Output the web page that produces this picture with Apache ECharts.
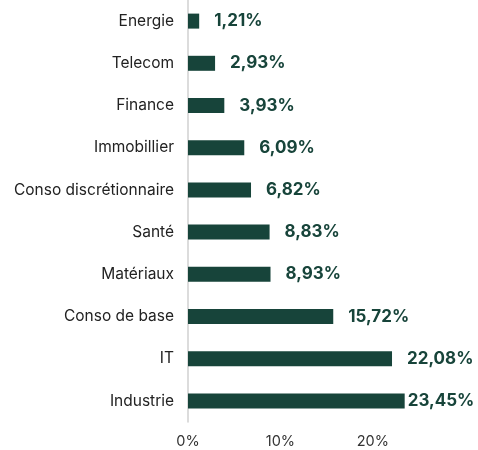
<!DOCTYPE html>
<html><head><meta charset="utf-8">
<script src="https://cdn.jsdelivr.net/npm/echarts@6/dist/echarts.min.js"></script>
<style>html,body{margin:0;padding:0;background:#fff}#c{width:478px;height:450px}</style>
</head><body><div id="c"></div>
<script>
const categories = ["Energie","Telecom","Finance","Immobillier","Conso discrétionnaire","Santé","Matériaux","Conso de base","IT","Industrie"];
const values = [1.21,2.93,3.93,6.09,6.82,8.83,8.93,15.72,22.08,23.45];
const tickValues = [0,10,20];

const color = '#17443A';
const chart = echarts.init(document.getElementById('c'));
chart.setOption({
  animation:false,
  grid:{left:188,right:59,top:0,height:422,containLabel:false},
  xAxis:{type:'value',min:0,max:25,interval:10,
    axisLine:{show:false},axisTick:{show:false},splitLine:{show:false},
    axisLabel:{color:'#333',fontFamily:'Inter',fontSize:14.5,margin:12,
      formatter:v=>tickValues.includes(v)?v+'%':''}},
  yAxis:{type:'category',data:categories,inverse:true,
    axisLine:{show:true,lineStyle:{color:'#d0d0d0',width:1.5}},axisTick:{show:false},
    axisLabel:{color:'#222',fontFamily:'Inter',fontSize:15.5,margin:14}},
  series:[{type:'bar',barWidth:15,
    data:values.map((v,i)=>({value:v,label:{distance:i===values.length-1?3:15}})),
    itemStyle:{color:color},
    label:{show:true,position:'right',color:color,fontFamily:'Inter',fontWeight:'bold',fontSize:17,
      formatter:p=>p.value.toFixed(2).replace('.',',')+'%'}}]
});
</script></body></html>
